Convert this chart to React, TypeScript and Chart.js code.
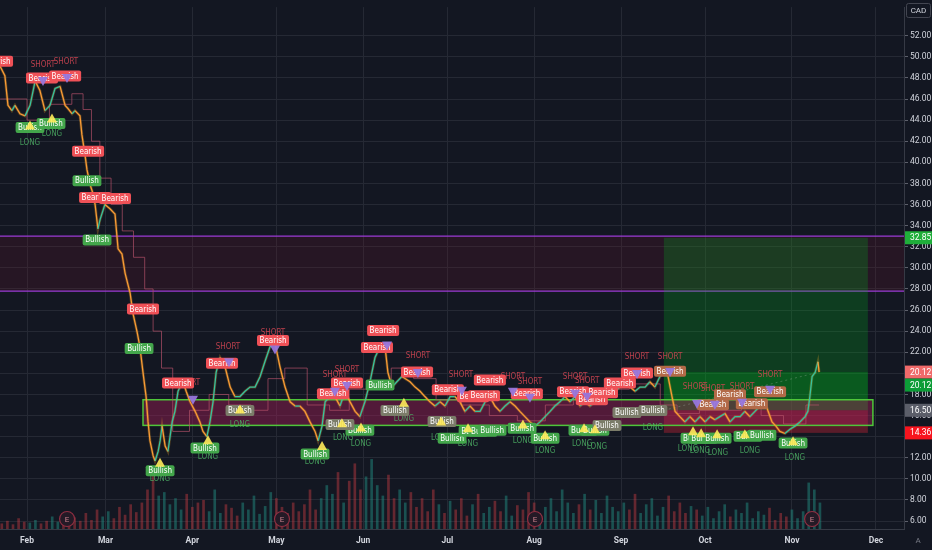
import { useEffect, useRef } from 'react';
import { Chart, registerables } from 'chart.js';

Chart.register(...registerables);

// Day offsets are counted from 1 Feb; prices in CAD.
const priceSeries: [number, number][] = [
  [-9.6, 49.1], [-7.9, 48.2], [-6.8, 45.4], [-5.4, 44.9], [-4.3, 45.4], [-2.5, 44.6], [-0.7, 44.4], [1.1, 45.4],
  [2.9, 47.7], [4.6, 46.8], [6.4, 44.9], [8.2, 45.4], [10.0, 47.0], [11.8, 47.2], [13.6, 45.4], [14.6, 45.1],
  [16.1, 44.6], [17.1, 44.9], [18.9, 44.4], [19.6, 42.6], [20.7, 40.7], [21.4, 39.3], [22.5, 37.9], [23.6, 37.0],
  [24.3, 36.0], [25.3, 33.7], [26.1, 34.6], [27.8, 36.0], [29.6, 35.6], [31.4, 35.1], [32.5, 31.8], [33.9, 31.3],
  [35.0, 29.5], [36.8, 27.6], [37.8, 25.7], [39.3, 23.9], [40.3, 22.5], [41.4, 20.1], [42.5, 17.8], [43.2, 15.4],
  [43.9, 13.6], [45.0, 12.2], [45.7, 11.7], [46.8, 12.6], [47.5, 13.6], [48.2, 15.0], [49.3, 13.1], [50.3, 12.6],
  [51.8, 15.4], [52.8, 16.4], [53.9, 18.3], [54.6, 18.7], [55.7, 19.2], [56.8, 18.3], [58.2, 17.3], [60.0, 16.4],
  [61.7, 15.4], [62.8, 14.5], [64.2, 14.0], [65.3, 15.4], [66.4, 17.3], [67.5, 20.1], [68.9, 21.5], [70.7, 20.6],
  [72.5, 18.7], [74.2, 17.8], [76.0, 17.8], [77.8, 18.3], [79.6, 18.7], [81.4, 18.7], [83.2, 19.7], [84.9, 21.1],
  [86.7, 22.5], [88.5, 22.9], [90.3, 20.6], [92.1, 18.7], [93.9, 17.3], [95.7, 16.9], [97.4, 16.9], [99.2, 16.4],
  [101.0, 15.4], [102.8, 14.5], [103.9, 13.6], [105.3, 15.0], [106.4, 17.3], [108.1, 17.8], [109.9, 17.8], [111.7, 16.9],
  [113.5, 18.3], [115.3, 17.3], [117.1, 16.4], [118.8, 15.9], [120.6, 17.3], [122.4, 19.2], [124.2, 21.5], [126.0, 22.5],
  [127.8, 22.5], [128.8, 20.1], [130.3, 18.7], [132.0, 19.2], [133.8, 19.7], [136.7, 19.2], [138.5, 18.7], [140.3, 18.3],
  [142.0, 17.8], [143.8, 17.3], [145.6, 16.9], [147.4, 17.3], [149.2, 16.9], [151.0, 17.8], [152.7, 17.8], [154.5, 17.3],
  [156.3, 16.4], [158.1, 16.9], [159.9, 16.4], [161.7, 16.4], [163.5, 17.3], [165.2, 17.8], [167.0, 16.9], [168.8, 16.4],
  [170.6, 16.9], [172.4, 17.3], [174.2, 16.9], [175.9, 16.4], [177.7, 15.9], [179.5, 15.4], [181.3, 15.0], [183.1, 15.4],
  [184.9, 15.9], [186.7, 16.4], [188.4, 16.9], [190.2, 17.3], [192.0, 17.8], [193.8, 17.3], [195.6, 17.8], [197.4, 16.9],
  [199.1, 17.3], [200.9, 16.9], [202.7, 17.3], [204.5, 17.8], [206.3, 18.3], [208.1, 18.7], [209.9, 18.3], [211.6, 18.7],
  [213.4, 19.2], [215.2, 18.7], [217.0, 18.3], [218.8, 18.7], [220.6, 18.7], [222.3, 19.2], [224.1, 18.7], [225.9, 19.7],
  [227.7, 20.1], [228.8, 19.7], [230.2, 17.8], [231.3, 16.4], [233.0, 15.9], [234.8, 15.4], [236.6, 15.9], [238.4, 15.4],
  [240.2, 15.9], [242.0, 15.4], [243.8, 15.9], [245.5, 15.6], [247.3, 15.9], [249.1, 16.2], [250.9, 15.4], [252.7, 15.9],
  [254.5, 15.9], [256.2, 16.4], [258.0, 15.9], [259.8, 16.4], [261.6, 16.9], [263.4, 17.3], [264.5, 16.4], [265.9, 15.4],
  [267.3, 15.0], [268.7, 14.5], [270.5, 14.3], [272.3, 14.7], [274.1, 15.0], [275.9, 15.4], [277.7, 15.9], [278.7, 16.4],
  [279.4, 17.8], [280.2, 19.7], [281.3, 20.1], [282.3, 21.1], [282.7, 20.12],
];

// Trailing stop line (stepped)
const trailDays = [-9.6, 0, 8, 16, 20, 23, 26, 30, 34, 38, 42, 45, 48, 52, 58, 65, 72, 80, 86, 92, 100, 108, 115, 122,
  130, 138, 146, 155, 165, 175, 185, 195, 205, 215, 226, 232, 240, 255, 262, 270, 278, 282.7];
const trailValues = [46.0, 44.0, 45.5, 46.5, 45.0, 42.0, 38.5, 36.0, 33.5, 31.0, 28.0, 24.0, 20.5, 14.5, 16.5, 18.0,
  17.0, 16.5, 19.5, 20.5, 17.0, 16.5, 18.5, 19.0, 20.5, 19.5, 17.5, 17.0, 16.0, 15.5, 17.0, 18.0, 18.5, 19.0, 17.0,
  16.2, 16.5, 17.5, 16.0, 15.2, 17.0, 17.0];

// Volume, one bar every two days starting at day -9
const volumeStartDay = -9;
const volumeStepDays = 2;
const volumeValues = [
  6, 9, 5, 12, 8, 7, 10, 6, 9, 14, 8,
  11, 7, 13, 9, 18, 10, 22,
  14, 20, 12, 25, 16, 28, 19,
  30, 45, 70, 38,
  42, 28, 35, 22, 40, 25, 30,
  33, 20, 45, 18, 28, 24, 15, 30, 22, 38, 17, 26, 42,
  35, 25, 18, 30, 20, 28, 45, 22, 35, 50,
  40, 65, 30, 55, 75, 45, 60, 80, 50, 38, 62, 35, 45,
  30, 42, 25, 35, 20, 45, 28, 18, 32,
  22, 35, 15, 28, 40, 18, 25, 32, 20, 38, 15, 27, 22, 42, 30, 18,
  25, 35, 20, 45, 30, 18, 28, 40, 22, 33, 18, 38, 25, 20,
  30, 22, 40, 18, 28, 35, 15, 25, 38, 20, 30, 18, 26, 22,
  15, 25, 12, 20, 28, 14, 22, 18, 30, 12, 20, 16, 24, 10, 18, 14, 22, 12,
  20, 53, 45, 30,
];

const monthDays = [0, 28, 59, 89, 120, 150, 181, 212, 242, 273, 303];
const monthLabels = ['Feb', 'Mar', 'Apr', 'May', 'Jun', 'Jul', 'Aug', 'Sep', 'Oct', 'Nov', 'Dec'];
const priceTicks = [6, 8, 10, 12, 14, 16, 18, 20, 22, 24, 26, 28, 30, 32, 34, 36, 38, 40, 42, 44, 46, 48, 50, 52];

// Signal tags [day, price]
const bearishTags: [number, number][] = [
  [-10.7, 49.57], [5.35, 47.98], [13.6, 48.17], [21.8, 41.06], [24.3, 36.67], [31.4, 36.57], [41.4, 26.1],
  [53.9, 19.09], [69.6, 20.96], [87.8, 23.11], [109.2, 18.06], [114.2, 19.09], [124.9, 22.46], [127.1, 24.05],
  [139.2, 20.12], [150.2, 18.44], [159.2, 17.78], [163.1, 17.87], [165.2, 19.37], [178.4, 18.06], [194.9, 18.25],
  [201.6, 17.5], [205.2, 18.16], [211.6, 19.09], [217.7, 20.03],
];
const bearishMutedTags: [number, number][] = [[229.5, 20.21], [244.8, 17.03], [250.9, 17.97], [258.7, 17.13], [265.2, 18.25]];
const bullishTags: [number, number][] = [
  [1.07, 43.3], [8.57, 43.68], [21.4, 38.26], [25.0, 32.65], [40.0, 22.36], [47.5, 10.77], [63.5, 12.92],
  [102.8, 12.36], [118.8, 14.6], [126.0, 18.9], [151.7, 13.85], [159.2, 14.51], [162.7, 14.51], [166.0, 14.6],
  [176.7, 14.79], [184.9, 13.85], [198.4, 14.6], [202.7, 14.6], [238.4, 13.85], [241.3, 13.85], [246.3, 13.85],
  [257.3, 14.04], [262.3, 14.14], [273.4, 13.39],
];
const bullishMutedTags: [number, number][] = [[76.0, 16.47], [111.7, 15.16], [131.3, 16.47], [148.1, 15.44], [207.0, 15.07], [214.1, 16.29], [223.4, 16.47]];
const upMarks: [number, number][] = [
  [1.07, 43.49], [8.92, 44.15], [47.47, 11.52], [64.6, 13.67], [76.02, 16.57], [105.3, 13.11], [112.4, 15.26],
  [119.2, 14.88], [134.5, 17.22], [147.8, 15.44], [157.4, 14.79], [177.0, 15.16], [184.9, 14.14], [198.8, 14.79],
  [202.7, 14.7], [237.7, 14.51], [240.6, 14.32], [246.3, 14.23], [256.2, 14.23], [273.4, 13.57],
];
const downMarks: [number, number][] = [
  [5.71, 47.7], [14.28, 47.98], [59.24, 17.5], [72.09, 21.05], [88.51, 22.27], [109.9, 18.25], [114.2, 18.81],
  [128.5, 22.64], [139.5, 20.03], [155.2, 18.34], [173.4, 18.25], [179.5, 17.69], [195.6, 18.06], [199.9, 17.78],
  [217.7, 19.93], [229.5, 20.12], [239.1, 17.13], [245.5, 17.03], [255.2, 17.22], [265.2, 18.44],
];
const shortNotes: [number, number][] = [
  [5.71, 49.2], [13.92, 49.48], [57.46, 19.09], [71.73, 22.55], [87.79, 23.86], [109.9, 19.84], [114.2, 20.31],
  [139.5, 21.61], [154.9, 19.84], [173.4, 19.65], [179.5, 19.18], [195.6, 19.65], [199.9, 19.28], [217.7, 21.52],
  [229.5, 21.52], [238.4, 18.72], [244.8, 18.53], [255.2, 18.72], [265.2, 19.84],
];
const longNotes: [number, number][] = [
  [1.07, 41.81], [8.92, 42.65], [47.47, 10.02], [64.6, 12.08], [76.02, 15.07], [102.8, 11.61], [112.8, 13.85],
  [119.2, 13.29], [134.5, 15.72], [147.8, 13.85], [157.4, 13.29], [177.0, 13.57], [184.9, 12.64], [198.1, 13.29],
  [203.4, 13.01], [223.4, 14.79], [235.9, 12.83], [240.2, 12.64], [246.6, 12.45], [258.0, 12.64], [274.1, 11.99],
];
const earningsDays = [14.3, 91.0, 181.3, 280.2];

// Zones
const resistanceBand = { top: 33.0, bottom: 27.8 };
const rangeBox = { fromDay: 41.4, toDay: 301.9, top: 17.5, bottom: 15.07 };
const longPosition = { fromDay: 227.3, toDay: 300.1, entry: 16.5, target: 32.85, stop: 14.36, last: 20.12, lastDay: 282.7 };

const BG = '#131722';
const GRID = '#252934';
const AXIS_TEXT = '#d1d4dc';
const AXIS_FONT = 'Roboto, "Liberation Sans", sans-serif';
const TAG_FONT = '8px "Liberation Sans Narrow", "DejaVu Sans Condensed", "Roboto Condensed", "Liberation Sans", sans-serif';

function priceAt(day: number): number {
  if (day <= priceSeries[0][0]) return priceSeries[0][1];
  for (let i = 1; i < priceSeries.length; i++) {
    const [d1, v1] = priceSeries[i];
    if (day <= d1) {
      const [d0, v0] = priceSeries[i - 1];
      return v0 + ((v1 - v0) * (day - d0)) / (d1 - d0);
    }
  }
  return priceSeries[priceSeries.length - 1][1];
}

function roundRect(c: CanvasRenderingContext2D, x: number, y: number, w: number, h: number, r: number) {
  c.beginPath();
  c.moveTo(x + r, y);
  c.lineTo(x + w - r, y);
  c.quadraticCurveTo(x + w, y, x + w, y + r);
  c.lineTo(x + w, y + h - r);
  c.quadraticCurveTo(x + w, y + h, x + w - r, y + h);
  c.lineTo(x + r, y + h);
  c.quadraticCurveTo(x, y + h, x, y + h - r);
  c.lineTo(x, y + r);
  c.quadraticCurveTo(x, y, x + r, y);
  c.closePath();
}

const overlays = {
  id: 'overlays',
  beforeDraw(chart: any) {
    const c = chart.ctx as CanvasRenderingContext2D;
    c.save();
    c.fillStyle = BG;
    c.fillRect(0, 0, chart.width, chart.height);
    c.restore();
  },
  beforeDatasetsDraw(chart: any) {
    const c = chart.ctx as CanvasRenderingContext2D;
    const { x, y } = chart.scales;
    const a = chart.chartArea;
    c.save();
    c.beginPath();
    c.rect(a.left, a.top, a.right - a.left, a.bottom - a.top);
    c.clip();

    // resistance band
    const bt = y.getPixelForValue(resistanceBand.top);
    const bb = y.getPixelForValue(resistanceBand.bottom);
    c.fillStyle = 'rgba(110,25,45,0.22)';
    c.fillRect(a.left, bt, a.right - a.left, bb - bt);
    c.strokeStyle = '#9a3bd4';
    c.lineWidth = 1.3;
    c.beginPath();
    c.moveTo(a.left, bt); c.lineTo(a.right, bt);
    c.moveTo(a.left, bb); c.lineTo(a.right, bb);
    c.stroke();

    // long position
    const px0 = x.getPixelForValue(longPosition.fromDay);
    const px1 = x.getPixelForValue(longPosition.toDay);
    const pt = y.getPixelForValue(longPosition.target);
    const pe = y.getPixelForValue(longPosition.entry);
    const ps = y.getPixelForValue(longPosition.stop);
    const pl = y.getPixelForValue(longPosition.last);
    c.fillStyle = 'rgba(0,185,30,0.24)';
    c.fillRect(px0, pt, px1 - px0, pe - pt);
    c.fillStyle = 'rgba(0,185,30,0.24)';
    c.fillRect(px0, pl, px1 - px0, pe - pl);
    c.fillStyle = 'rgba(242,40,60,0.32)';
    c.fillRect(px0, pe, px1 - px0, ps - pe);

    // range box
    const rx0 = x.getPixelForValue(rangeBox.fromDay);
    const rx1 = x.getPixelForValue(rangeBox.toDay);
    const rt = y.getPixelForValue(rangeBox.top);
    const rb = y.getPixelForValue(rangeBox.bottom);
    c.fillStyle = 'rgba(170,30,90,0.42)';
    c.fillRect(rx0, rt, rx1 - rx0, rb - rt);
    c.strokeStyle = '#4fc63a';
    c.lineWidth = 1.5;
    c.strokeRect(rx0, rt, rx1 - rx0, rb - rt);

    // dotted entry-to-last guide
    c.strokeStyle = 'rgba(180,190,180,0.3)';
    c.lineWidth = 1;
    c.setLineDash([2, 3]);
    c.beginPath();
    c.moveTo(px0, pe);
    c.lineTo(x.getPixelForValue(longPosition.lastDay), pl);
    c.stroke();
    c.setLineDash([]);
    c.restore();
  },
  afterDatasetsDraw(chart: any) {
    const c = chart.ctx as CanvasRenderingContext2D;
    const { x, y } = chart.scales;
    const a = chart.chartArea;
    c.save();
    c.beginPath();
    c.rect(a.left, a.top, a.right - a.left, a.bottom - a.top);
    c.clip();

    c.font = TAG_FONT;
    c.textAlign = 'center';
    c.textBaseline = 'middle';
    c.fillStyle = 'rgba(214,70,84,0.85)';
    shortNotes.forEach(([d, v]) => c.fillText('SHORT', x.getPixelForValue(d), y.getPixelForValue(v)));
    c.fillStyle = 'rgba(76,175,100,0.85)';
    longNotes.forEach(([d, v]) => c.fillText('LONG', x.getPixelForValue(d), y.getPixelForValue(v)));

    const tag = (d: number, v: number, text: string, bg: string) => {
      const cx = x.getPixelForValue(d);
      const cy = y.getPixelForValue(v);
      c.font = TAG_FONT;
      const w = c.measureText(text).width + 5;
      const h = 11;
      c.fillStyle = bg;
      roundRect(c, cx - w / 2, cy - h / 2, w, h, 2);
      c.fill();
      c.fillStyle = '#ffffff';
      c.fillText(text, cx, cy + 0.5);
    };
    bearishTags.forEach(([d, v]) => tag(d, v, 'Bearish', '#ef5157'));
    bearishMutedTags.forEach(([d, v]) => tag(d, v, 'Bearish', '#b36a48'));
    bullishTags.forEach(([d, v]) => tag(d, v, 'Bullish', '#43a64b'));
    bullishMutedTags.forEach(([d, v]) => tag(d, v, 'Bullish', '#7b7c69'));

    c.fillStyle = 'rgba(255,235,90,0.9)';
    upMarks.forEach(([d, v]) => {
      const cx = x.getPixelForValue(d);
      const cy = y.getPixelForValue(v);
      c.beginPath();
      c.moveTo(cx, cy - 5);
      c.lineTo(cx + 5, cy + 4);
      c.lineTo(cx - 5, cy + 4);
      c.closePath();
      c.fill();
    });
    c.fillStyle = 'rgba(150,118,220,0.95)';
    downMarks.forEach(([d, v]) => {
      const cx = x.getPixelForValue(d);
      const cy = y.getPixelForValue(v);
      c.beginPath();
      c.moveTo(cx - 5, cy - 4);
      c.lineTo(cx + 5, cy - 4);
      c.lineTo(cx, cy + 5);
      c.closePath();
      c.fill();
    });

    // earnings markers
    earningsDays.forEach((d) => {
      const cx = x.getPixelForValue(d);
      const cy = a.bottom - 10;
      c.beginPath();
      c.arc(cx, cy, 7.5, 0, Math.PI * 2);
      c.fillStyle = '#241a26';
      c.fill();
      c.strokeStyle = '#8f2f42';
      c.lineWidth = 1.2;
      c.stroke();
      c.fillStyle = '#c9808c';
      c.font = `8px ${AXIS_FONT}`;
      c.fillText('E', cx, cy + 0.5);
    });
    c.restore();
  },
  afterDraw(chart: any) {
    const c = chart.ctx as CanvasRenderingContext2D;
    const { y } = chart.scales;
    const a = chart.chartArea;
    c.save();
    const tags = [
      { value: longPosition.target, bg: '#1fae3a', shift: 0 },
      { value: longPosition.last, bg: '#f06a6a', shift: 0 },
      { value: longPosition.last, bg: '#0c9c37', shift: 13 },
      { value: longPosition.entry, bg: '#5b5e69', shift: 0 },
      { value: longPosition.stop, bg: '#f7141e', shift: 0 },
    ];
    c.font = `8.5px ${AXIS_FONT}`;
    c.textAlign = 'left';
    c.textBaseline = 'middle';
    tags.forEach((t) => {
      const cy = y.getPixelForValue(t.value) + t.shift;
      c.fillStyle = t.bg;
      c.fillRect(a.right + 1, cy - 6.5, chart.width - a.right - 1, 13);
      c.fillStyle = '#ffffff';
      c.fillText(t.value.toFixed(2), a.right + 6, cy + 0.5);
    });

    // currency badge
    c.strokeStyle = '#434651';
    c.lineWidth = 1;
    roundRect(c, a.right + 2.5, 3.5, 24, 14, 2);
    c.stroke();
    c.fillStyle = AXIS_TEXT;
    c.textAlign = 'center';
    c.font = `8px ${AXIS_FONT}`;
    c.fillText('CAD', a.right + 14.5, 11);
    c.fillStyle = '#787b86';
    c.fillText('A', a.right + 14, a.bottom + 12);
    c.restore();
  },
};

export default function App() {
  const canvasRef = useRef<HTMLCanvasElement | null>(null);

  useEffect(() => {
    document.body.style.margin = '0';
    const canvas = canvasRef.current;
    if (!canvas) return;

    const volumeData = volumeValues.map((v, i) => ({ x: volumeStartDay + i * volumeStepDays, y: v }));
    const volumeColors = volumeData.map((p) =>
      priceAt(p.x) >= priceAt(p.x - volumeStepDays) ? 'rgba(34,140,128,0.5)' : 'rgba(200,60,66,0.45)'
    );

    const chart = new Chart(canvas, {
      type: 'line',
      data: {
        datasets: [
          {
            type: 'line',
            data: priceSeries.map(([d, v]) => ({ x: d, y: v })),
            borderWidth: 1.3,
            pointRadius: 0,
            tension: 0,
            yAxisID: 'y',
            order: 1,
            segment: {
              borderColor: (ctx: any) => (ctx.p1.parsed.y >= ctx.p0.parsed.y ? '#35c3a0' : '#f99b35'),
            },
          } as any,
          {
            type: 'line',
            data: priceSeries.map(([d, v]) => ({ x: d, y: v })),
            borderColor: 'rgba(255,170,40,0.25)',
            borderWidth: 2.8,
            pointRadius: 0,
            tension: 0,
            yAxisID: 'y',
            order: 3,
          },
          {
            type: 'line',
            data: trailDays.map((d, i) => ({ x: d, y: trailValues[i] })),
            borderColor: 'rgba(176,80,104,0.7)',
            borderWidth: 1,
            pointRadius: 0,
            stepped: 'before',
            yAxisID: 'y',
            order: 5,
          } as any,
          {
            type: 'bar',
            data: volumeData,
            backgroundColor: volumeColors,
            barThickness: 2,
            yAxisID: 'yv',
            order: 10,
          } as any,
        ],
      },
      options: {
        responsive: false,
        devicePixelRatio: 1,
        animation: false,
        layout: { padding: 0 },
        plugins: { legend: { display: false }, tooltip: { enabled: false } },
        scales: {
          x: {
            type: 'linear',
            position: 'bottom',
            min: -9.64,
            max: 313.0,
            offset: false,
            grid: { color: GRID, drawTicks: false, offset: false },
            border: { color: '#363a45' },
            afterBuildTicks: (scale: any) => {
              scale.ticks = monthDays.map((v) => ({ value: v }));
            },
            afterFit: (scale: any) => {
              scale.height = 21;
            },
            ticks: {
              autoSkip: false,
              maxRotation: 0,
              padding: 7,
              color: AXIS_TEXT,
              font: { family: AXIS_FONT, size: 8.5, weight: 'bold' },
              callback: (_v: any, i: number) => monthLabels[i],
            },
          },
          y: {
            type: 'linear',
            position: 'right',
            min: 5.25,
            max: 54.71,
            grid: { color: GRID, tickLength: 4, tickColor: '#5d606b' },
            border: { color: '#363a45' },
            afterBuildTicks: (scale: any) => {
              scale.ticks = priceTicks.map((v) => ({ value: v }));
            },
            afterFit: (scale: any) => {
              scale.width = 28;
            },
            ticks: {
              autoSkip: false,
              padding: 2,
              color: AXIS_TEXT,
              font: { family: AXIS_FONT, size: 8.5 },
              callback: (v: any) => Number(v).toFixed(2),
            },
          },
          yv: {
            type: 'linear',
            display: false,
            min: 0,
            max: 600,
          },
        },
      } as any,
      plugins: [overlays],
    });

    return () => chart.destroy();
  }, []);

  return (
    <div style={{ position: 'fixed', left: 0, top: 0, width: 932, height: 550, background: BG }}>
      <canvas ref={canvasRef} width={932} height={550} style={{ display: 'block' }} />
    </div>
  );
}
